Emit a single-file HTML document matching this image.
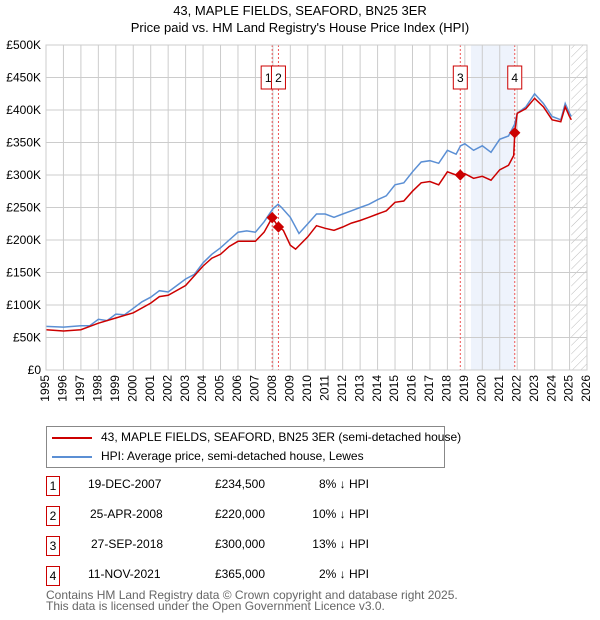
<!DOCTYPE html>
<html><head><meta charset="utf-8"><style>
body{margin:0;background:#fff;font-family:"Liberation Sans","DejaVu Sans",sans-serif;}
#wrap{position:relative;width:600px;height:620px;overflow:hidden;}
.t{position:absolute;font-size:12px;color:#000;white-space:nowrap;}
.box{position:absolute;width:14px;height:20px;border:1.5px solid #c00;box-sizing:border-box;font-size:12px;text-align:center;line-height:18px;}
</style></head><body>
<div id="wrap">
<div class="t" style="left:0;width:600px;text-align:center;top:3px;font-size:13px">43, MAPLE FIELDS, SEAFORD, BN25 3ER</div>
<div class="t" style="left:0;width:600px;text-align:center;top:20px;font-size:13px">Price paid vs. HM Land Registry's House Price Index (HPI)</div>
<svg id="chart" width="600" height="420" style="position:absolute;left:0;top:0"></svg>
<div style="position:absolute;left:46px;top:426px;width:399px;height:42px;border:1px solid #888;box-sizing:border-box">
<div><div style="position:absolute;left:5px;top:10px;width:40px;height:2px;background:#c00"></div><div class="t" style="left:54px;top:3px">43, MAPLE FIELDS, SEAFORD, BN25 3ER (semi-detached house)</div></div>
<div><div style="position:absolute;left:5px;top:29px;width:40px;height:2px;background:#5b8fd4"></div><div class="t" style="left:54px;top:22px">HPI: Average price, semi-detached house, Lewes</div></div>
</div>
<div>
<div><div class="box" style="left:46px;top:476px">1</div><div class="t" style="left:88px;top:477px">19-DEC-2007</div><div class="t" style="left:200px;width:65px;text-align:right;top:477px">£234,500</div><div class="t" style="left:300px;width:69px;text-align:right;top:477px">8% ↓ HPI</div></div>
<div><div class="box" style="left:46px;top:506px">2</div><div class="t" style="left:90px;top:507px">25-APR-2008</div><div class="t" style="left:200px;width:65px;text-align:right;top:507px">£220,000</div><div class="t" style="left:300px;width:69px;text-align:right;top:507px">10% ↓ HPI</div></div>
<div><div class="box" style="left:46px;top:536px">3</div><div class="t" style="left:91px;top:537px">27-SEP-2018</div><div class="t" style="left:200px;width:65px;text-align:right;top:537px">£300,000</div><div class="t" style="left:300px;width:69px;text-align:right;top:537px">13% ↓ HPI</div></div>
<div><div class="box" style="left:46px;top:566px">4</div><div class="t" style="left:88px;top:567px">11-NOV-2021</div><div class="t" style="left:200px;width:65px;text-align:right;top:567px">£365,000</div><div class="t" style="left:300px;width:69px;text-align:right;top:567px">2% ↓ HPI</div></div>
</div>
<div class="t" style="left:46px;top:590px;color:#666;line-height:11px">Contains HM Land Registry data © Crown copyright and database right 2025.<br>This data is licensed under the Open Government Licence v3.0.</div>
</div>
<script>
const hpiYears=[1995,1996,1997,1997.5,1998,1998.5,1999,1999.5,2000,2000.5,2001,2001.5,2002,2002.5,2003,2003.5,2004,2004.5,2005,2005.5,2006,2006.5,2007,2007.5,2008,2008.3,2008.5,2009,2009.5,2010,2010.5,2011,2011.5,2012,2012.5,2013,2013.5,2014,2014.5,2015,2015.5,2016,2016.5,2017,2017.5,2018,2018.5,2018.75,2019,2019.5,2020,2020.5,2021,2021.5,2021.85,2022,2022.5,2023,2023.5,2024,2024.5,2024.75,2025,2025.1];
const hpiValues=[67,66,68,68,78,76,86,85,95,105,112,122,120,130,140,147,165,178,188,200,212,214,212,228,248,255,250,235,210,225,240,240,235,240,245,250,255,262,268,285,288,305,320,322,318,338,332,345,348,338,345,335,355,360,378,395,405,425,410,390,385,410,395,390];
const redYears=[1995,1996,1997,1998,1999,2000,2001,2001.5,2002,2003,2004,2004.5,2005,2005.5,2006,2007,2007.5,2007.96,2008.32,2008.6,2009,2009.3,2010,2010.5,2011,2011.5,2012,2012.5,2013,2013.5,2014,2014.5,2015,2015.5,2016,2016.5,2017,2017.5,2018,2018.5,2018.74,2019,2019.5,2020,2020.5,2021,2021.5,2021.8,2021.86,2022,2022.5,2023,2023.5,2024,2024.5,2024.75,2025,2025.1];
const redValues=[62,60,62,72,80,88,103,113,115,130,160,172,178,190,198,198,212,234.5,220,215,192,186,205,222,218,215,220,226,230,235,240,245,258,260,275,288,290,285,305,300,300,302,295,298,292,308,315,330,365,395,402,418,405,385,382,405,390,385];
const saleYears=[2007.96,2008.32,2018.74,2021.86];
const saleValues=[234.5,220,300,365];
const saleLabels=["1","2","3","4"];
const yTicks=[0,50,100,150,200,250,300,350,400,450,500];
const yTickLabels=["£0","£50K","£100K","£150K","£200K","£250K","£300K","£350K","£400K","£450K","£500K"];
const xTicks=[1995,1996,1997,1998,1999,2000,2001,2002,2003,2004,2005,2006,2007,2008,2009,2010,2011,2012,2013,2014,2015,2016,2017,2018,2019,2020,2021,2022,2023,2024,2025,2026];

const svg=document.getElementById('chart');const NS='http://www.w3.org/2000/svg';
const X0=46,X1=587,Y0=370,Y1=45;
const sx=y=>X0+(y-1995)/(2026-1995)*(X1-X0);
const sy=v=>Y0-v/500*(Y0-Y1);
function mk(t,a){const e=document.createElementNS(NS,t);for(const k in a)e.setAttribute(k,a[k]);svg.appendChild(e);return e;}
// shaded region & hatch
let r=mk('rect',{x:sx(2019.35),y:Y1,width:sx(2021.86)-sx(2019.35),height:Y0-Y1,fill:'#eef3fc'});


const defs=mk('defs',{});defs.innerHTML='<pattern id="h" width="6" height="6" patternUnits="userSpaceOnUse" patternTransform="rotate(45)"><line x1="0" y1="0" x2="0" y2="6" stroke="#bbb" stroke-width="1"/></pattern>';
let hr=mk('rect',{x:sx(2025.1),y:Y1,width:X1-sx(2025.1),height:Y0-Y1,fill:'url(#h)'});


yTicks.forEach((v,i)=>{let l=mk('line',{x1:X0,x2:X1,y1:sy(v),y2:sy(v),stroke:'#ccc','stroke-width':1});


let t=mk('text',{x:X0-5,y:sy(v)+4,'text-anchor':'end','font-size':12,fill:'#000'});t.textContent=yTickLabels[i];

});
xTicks.forEach(y=>{let l=mk('line',{x1:sx(y),x2:sx(y),y1:Y1,y2:Y0,stroke:'#ccc','stroke-width':1});


let t=mk('text',{x:sx(y),y:Y0+5,'font-size':12,fill:'#000',transform:`rotate(-90 ${sx(y)} ${Y0+5})`,'text-anchor':'end','dominant-baseline':'middle'});t.textContent=y;

});
saleYears.forEach((y,i)=>{let l=mk('line',{x1:sx(y),x2:sx(y),y1:Y1,y2:Y0,stroke:'#e55','stroke-width':1,'stroke-dasharray':'2,2'});


const bx=sx(y)-(i==0?13:(i==1?0:7));
let b=mk('rect',{x:i==0?sx(y)-11:sx(y)-7,y:66,width:14,height:23,fill:'#fff',stroke:'#c00','stroke-width':1});


let t=mk('text',{x:i==0?sx(y)-4:sx(y),y:82,'text-anchor':'middle','font-size':12});t.textContent=saleLabels[i];

});
function path(xs,vs,c,n){let d=xs.map((x,i)=>(i?'L':'M')+sx(x).toFixed(1)+','+sy(vs[i]).toFixed(1)).join('');
let p=mk('path',{d:d,fill:'none',stroke:c,'stroke-width':1.5});

}
path(hpiYears,hpiValues,'#5b8fd4','hpi-line');
path(redYears,redValues,'#cc0000','price-paid-line');
saleYears.forEach((y,i)=>{let c=mk('rect',{x:sx(y)-4,y:sy(saleValues[i])-4,width:8,height:8,fill:'#cc0000',transform:`rotate(45 ${sx(y)} ${sy(saleValues[i])})`});

});
let ax=mk('rect',{x:X0,y:Y1,width:X1-X0,height:Y0-Y1,fill:'none',stroke:'#ccc'});


</script>
</body></html>
